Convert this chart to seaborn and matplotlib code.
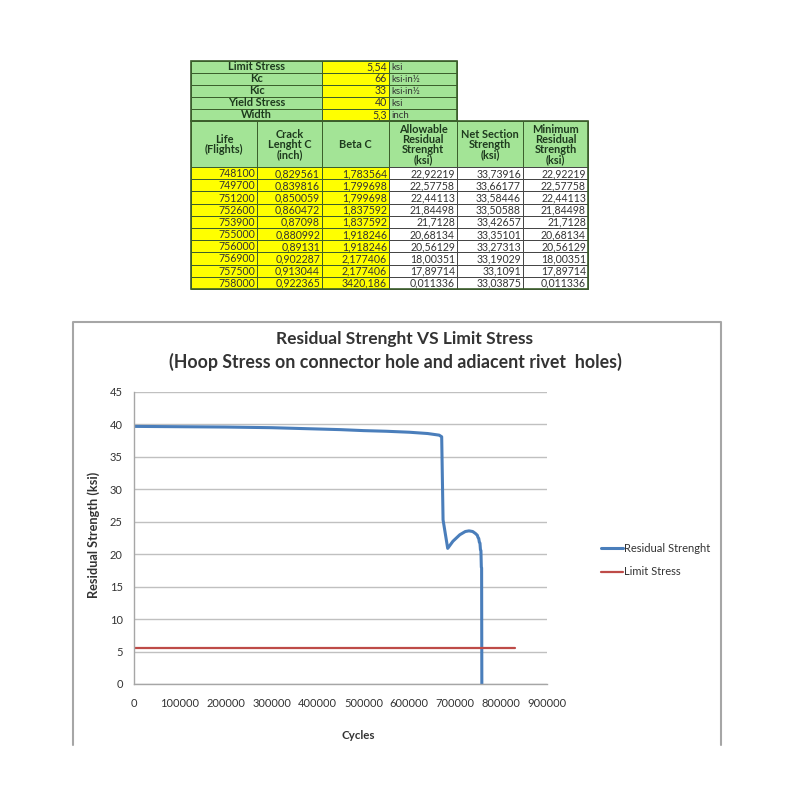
import numpy as np
import pandas as pd
import seaborn as sns
import matplotlib
import matplotlib.pyplot as plt
from matplotlib.patches import Rectangle

matplotlib.use("agg")

# ---- data ---------------------------------------------------------------
param_names = ["Limit Stress", "Kc", "Kic", "Yield Stress", "Width"]
param_values = [5.54, 66, 33, 40, 5.3]
param_units = ["ksi", "ksi·in½", "ksi·in½", "ksi", "inch"]

table_headers = [
    "Life\n(Flights)",
    "Crack\nLenght C\n(inch)",
    "Beta C",
    "Allowable\nResidual\nStrenght\n(ksi)",
    "Net Section\nStrength\n(ksi)",
    "Minimum\nResidual\nStrength\n(ksi)",
]
life = [748100, 749700, 751200, 752600, 753900, 755000, 756000, 756900, 757500, 758000]
crack = [0.829561, 0.839816, 0.850059, 0.860472, 0.87098, 0.880992, 0.89131,
         0.902287, 0.913044, 0.922365]
beta = [1.783564, 1.799698, 1.799698, 1.837592, 1.837592, 1.918246, 1.918246,
        2.177406, 2.177406, 3420.186]
allowable = [22.92219, 22.57758, 22.44113, 21.84498, 21.7128, 20.68134, 20.56129,
             18.00351, 17.89714, 0.011336]
net_section = [33.73916, 33.66177, 33.58446, 33.50588, 33.42657, 33.35101, 33.27313,
               33.19029, 33.1091, 33.03875]
minimum = [22.92219, 22.57758, 22.44113, 21.84498, 21.7128, 20.68134, 20.56129,
           18.00351, 17.89714, 0.011336]

early_cycles = [0, 100000, 200000, 300000, 400000, 450000, 500000, 550000, 600000,
                640000, 665000, 670500, 673500, 683600, 695000, 710000, 722000,
                730000, 738000, 744000]
early_residual = [39.7, 39.65, 39.6, 39.5, 39.3, 39.2, 39.05, 38.95, 38.8,
                  38.6, 38.35, 38.1, 25.3, 20.9, 22.0, 23.0, 23.5,
                  23.6, 23.5, 23.2]

limit_cycles = [0, 830000]
limit_stress = [5.54, 5.54]

x_ticks = [0, 100000, 200000, 300000, 400000, 500000, 600000, 700000, 800000, 900000]
y_ticks = [0, 5, 10, 15, 20, 25, 30, 35, 40, 45]

df_res = pd.DataFrame({"cycles": early_cycles + life,
                       "residual": early_residual + minimum})
df_lim = pd.DataFrame({"cycles": limit_cycles, "stress": limit_stress})

# ---- style --------------------------------------------------------------
sns.set_theme(style="white")
plt.rcParams["font.family"] = ["Lato", "DejaVu Sans"]

GREEN = "#A3E496"
YELLOW = "#FFFF00"
EDGE = "#3B5E2B"
TXT = "#1E3A1E"
TFS = 7.6  # table font size


def fmt(v):
    return str(v).replace(".", ",")


fig = plt.figure(figsize=(8, 8), dpi=100)

# background axes in pixel units for the spreadsheet block and chart frame
bg = fig.add_axes([0, 0, 1, 1])
bg.set_xlim(0, 800)
bg.set_ylim(800, 0)
bg.axis("off")

cols = [191, 257, 322, 389, 457, 523, 588]
top_rows = [61, 73, 85, 97, 109, 121]
head_bottom = 167
row_h = (289 - head_bottom) / len(life)


def cell(x0, x1, y0, y1, fc, ec=EDGE, lw=0.7):
    bg.add_patch(Rectangle((x0, y0), x1 - x0, y1 - y0, facecolor=fc,
                           edgecolor=ec, lw=lw))


# parameter block
for i, (n, v, u) in enumerate(zip(param_names, param_values, param_units)):
    y0, y1 = top_rows[i], top_rows[i + 1]
    ym = (y0 + y1) / 2
    cell(cols[0], cols[2], y0, y1, GREEN)
    cell(cols[2], cols[3], y0, y1, YELLOW)
    cell(cols[3], cols[4], y0, y1, GREEN)
    bg.text((cols[0] + cols[2]) / 2, ym, n, ha="center", va="center",
            fontsize=7.9, fontweight="bold", color=TXT)
    bg.text(cols[3] - 2, ym, fmt(v), ha="right", va="center", fontsize=TFS,
            color="#333333")
    bg.text(cols[3] + 2, ym, u, ha="left", va="center", fontsize=TFS - 0.6,
            color="#333333")
bg.add_patch(Rectangle((cols[0], top_rows[0]), cols[4] - cols[0],
                       top_rows[-1] - top_rows[0], fill=False, ec=EDGE, lw=1.2))

# header row
for j, h in enumerate(table_headers):
    cell(cols[j], cols[j + 1], top_rows[-1], head_bottom, GREEN)
    bg.text((cols[j] + cols[j + 1]) / 2, (top_rows[-1] + head_bottom) / 2 + 0.5,
            h, ha="center", va="center", fontsize=7.9, fontweight="bold",
            color=TXT, linespacing=0.88)

# data rows
columns = [life, crack, beta, allowable, net_section, minimum]
for i in range(len(life)):
    y0 = head_bottom + i * row_h
    y1 = y0 + row_h
    for j, col in enumerate(columns):
        fc = YELLOW if j < 3 else "white"
        ec = EDGE if j < 3 else "#444444"
        cell(cols[j], cols[j + 1], y0, y1, fc, ec)
        bg.text(cols[j + 1] - 2, (y0 + y1) / 2 + 0.5, fmt(col[i]), ha="right",
                va="center", fontsize=TFS, color="#333333")
bg.add_patch(Rectangle((cols[0], top_rows[-1]), cols[-1] - cols[0],
                       289 - top_rows[-1], fill=False, ec=EDGE, lw=1.2))

# chart frame (left, top, right)
bg.plot([73, 73, 721, 721], [745, 322, 322, 745], color="#A6A6A6", lw=1.5)

# titles
fig.text(404 / 800, 1 - 339 / 800, "Residual Strenght VS Limit Stress",
         ha="center", va="center", fontsize=12.5, fontweight="bold",
         color="#333333")
fig.text(395 / 800, 1 - 362 / 800,
         "(Hoop Stress on connector hole and adiacent rivet  holes)",
         ha="center", va="center", fontsize=12.8, fontweight="bold",
         color="#333333")

# ---- chart --------------------------------------------------------------
ax = fig.add_axes([134 / 800, (800 - 684) / 800, 413 / 800, 292 / 800])

sns.lineplot(data=df_res, x="cycles", y="residual", ax=ax, color="#4A7EBB",
             lw=2.2, label="Residual Strenght", sort=False)
sns.lineplot(data=df_lim, x="cycles", y="stress", ax=ax, color="#BE4B48",
             lw=1.6, label="Limit Stress", sort=False)

ax.set_xlim(0, 900000)
ax.set_ylim(0, 45)
ax.set_xticks(x_ticks)
ax.set_xticklabels([str(t) for t in x_ticks], fontsize=8, color="#333333")
ax.set_yticks(y_ticks)
ax.set_yticklabels([str(t) for t in y_ticks], fontsize=8, color="#333333")
ax.tick_params(axis="both", length=0)
ax.tick_params(axis="x", pad=10)
ax.tick_params(axis="y", pad=8)
ax.yaxis.grid(True, color="#C0C0C0", lw=1)
ax.set_axisbelow(True)
for s in ["top", "right"]:
    ax.spines[s].set_visible(False)
for s in ["left", "bottom"]:
    ax.spines[s].set_color("#A6A6A6")
    ax.spines[s].set_linewidth(1)

ax.set_xlabel("Cycles", fontsize=8.3, fontweight="bold", color="#333333")
ax.set_ylabel("Residual Strength (ksi)", fontsize=9.2, fontweight="bold",
              color="#333333")
ax.xaxis.set_label_coords((358 - 134) / 413, (684 - 730) / 292)
ax.yaxis.set_label_coords((100 - 134) / 413, (684 - 535) / 292)

handles, labels = ax.get_legend_handles_labels()
ax.legend_.remove()
fig.legend(handles, labels, loc="center left",
           bbox_to_anchor=(591 / 800, 1 - 560 / 800), frameon=False,
           fontsize=8, handlelength=2, handletextpad=0.05, labelspacing=1.15,
           labelcolor="#333333")

fig.savefig("out.png", dpi=100)
